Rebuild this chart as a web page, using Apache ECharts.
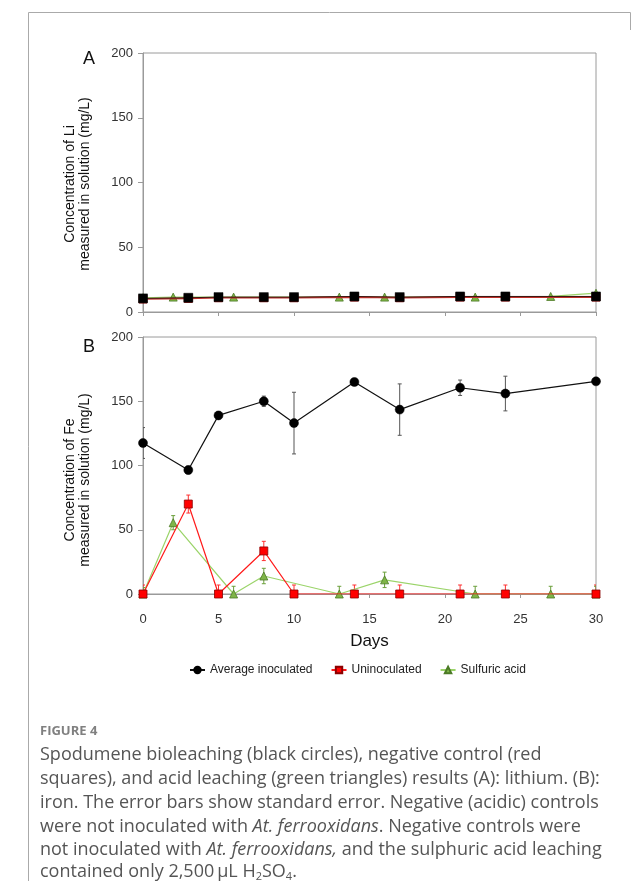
<!DOCTYPE html>
<html>
<head>
<meta charset="utf-8">
<script src="https://cdn.jsdelivr.net/npm/echarts@6/dist/echarts.min.js"></script>
<style>
  html, body { margin: 0; padding: 0; background: #fff; }
  #chart { width: 643px; height: 881px; }
</style>
</head>
<body>
<div id="chart"></div>
<script>
// ---- Sampling days ----
const daysMain = [0, 3, 5, 8, 10, 14, 17, 21, 24, 30];
const daysAcid = [0, 2, 6, 8, 13, 16, 22, 27, 30];

// ---- Panel A: lithium (mg/L) ----
const liInoculated = [10.5, 11, 11.5, 11.5, 11.5, 12, 11.5, 12, 12, 12];
const liUninoculated = [10, 10.5, 11, 11, 11, 11.5, 11, 11.5, 11.5, 11.5];
const liAcid = [11, 11.5, 11.5, 11.5, 11.5, 11.5, 11.5, 12, 14.5];

// ---- Panel B: iron (mg/L) with standard error ----
const feInoculated = [117.5, 96.5, 139, 150, 133, 165, 143.5, 160.5, 156, 165.5];
const feInoculatedErr = [12, 3, 3, 4, 24, 1.5, 20, 6, 13.5, 2];
const feUninoculated = [0, 70, 0, 33.5, 0, 0, 0, 0, 0, 0];
const feUninoculatedErr = [7, 7, 7, 7.5, 7, 7, 7, 7, 7, 7];
const feAcid = [0, 55.5, 0, 14, 0, 11, 0, 0, 0];
const feAcidErr = [5, 5.5, 6, 6, 6, 6, 6, 6, 6];

// ---- Axis ticks ----
const yTicks = { min: 0, max: 200, interval: 50 };
const xTicks = { min: 0, max: 30, interval: 5 };

const seriesNames = ['Average inoculated', 'Uninoculated', 'Sulfuric acid'];

const FONT = '"Liberation Sans", Arial, sans-serif';
const CAP_FONT = '"Open Sans", "Noto Sans", sans-serif';
const AXIS_GREY = '#9a9a9a';

const pairs = (xs, ys) => xs.map((x, i) => [x, ys[i]]);

function errorBars(axisIdx, xs, ys, errs, color) {
  return {
    type: 'custom',
    xAxisIndex: axisIdx,
    yAxisIndex: axisIdx,
    z: 1,
    clip: true,
    silent: true,
    data: xs.map((x, i) => [x, ys[i] - errs[i], ys[i] + errs[i]]),
    renderItem(params, api) {
      const lo = api.coord([api.value(0), api.value(1)]);
      const hi = api.coord([api.value(0), api.value(2)]);
      const w = 2;
      const st = { stroke: color, lineWidth: 1 };
      return {
        type: 'group',
        children: [
          { type: 'line', shape: { x1: lo[0], y1: lo[1], x2: hi[0], y2: hi[1] }, style: st },
          { type: 'line', shape: { x1: hi[0] - w, y1: hi[1], x2: hi[0] + w, y2: hi[1] }, style: st },
          { type: 'line', shape: { x1: lo[0] - w, y1: lo[1], x2: lo[0] + w, y2: lo[1] }, style: st }
        ]
      };
    }
  };
}

function lineSeries(axisIdx, name, data, opts) {
  return Object.assign({
    type: 'line',
    name: name,
    xAxisIndex: axisIdx,
    yAxisIndex: axisIdx,
    data: data,
    symbolSize: 8,
    z: 3,
    animation: false
  }, opts);
}

const BLACK = { lineStyle: { color: '#111', width: 1.2 }, itemStyle: { color: '#000', borderColor: '#000', borderWidth: 0.5 } };
const RED = { lineStyle: { color: '#ff1a1a', width: 1.2 }, itemStyle: { color: '#ff0000', borderColor: '#8b0000', borderWidth: 0.8 } };
const GREEN = { lineStyle: { color: '#9bd46a', width: 1.2 }, itemStyle: { color: '#7fb548', borderColor: '#4b7a25', borderWidth: 0.8 } };

const chart = echarts.init(document.getElementById('chart'), null, { renderer: 'canvas' });

function xAxisDef(idx, showLabels) {
  return {
    type: 'value', gridIndex: idx,
    min: xTicks.min, max: xTicks.max, interval: xTicks.interval,
    axisLine: { show: true, onZero: false, lineStyle: { color: AXIS_GREY, width: 1 } },
    axisTick: { show: true, inside: false, length: 4, lineStyle: { color: AXIS_GREY } },
    axisLabel: { show: showLabels, color: '#333', fontFamily: FONT, fontSize: 13, margin: 19 },
    splitLine: { show: false },
    name: showLabels ? 'Days' : '',
    nameLocation: 'middle',
    nameGap: 39,
    nameTextStyle: { color: '#111', fontFamily: FONT, fontSize: 17 }
  };
}

function yAxisDef(idx) {
  return {
    type: 'value', gridIndex: idx,
    min: yTicks.min, max: yTicks.max, interval: yTicks.interval,
    axisLine: { show: true, lineStyle: { color: AXIS_GREY, width: 1 } },
    axisTick: { show: true, inside: false, length: 5, lineStyle: { color: AXIS_GREY } },
    axisLabel: { color: '#333', fontFamily: FONT, fontSize: 13, margin: 10 },
    splitLine: { show: false }
  };
}

const capRich = {
  i: { fontFamily: CAP_FONT, fontSize: 18, fontStyle: 'italic', fill: '#555' },
  sub: { fontFamily: CAP_FONT, fontSize: 11, fill: '#555', verticalAlign: 'bottom', padding: [9, 0, 0, 0] }
};

function captionLine(cy, text) {
  return {
    type: 'text', x: 40, y: cy,
    style: {
      text: text,
      fontFamily: CAP_FONT, fontSize: 18, fill: '#555',
      verticalAlign: 'middle',
      rich: capRich
    }
  };
}

const option = {
  backgroundColor: '#fff',
  animation: false,
  grid: [
    { left: 143, top: 53, width: 453, height: 259, show: true, borderColor: AXIS_GREY, borderWidth: 1 },
    { left: 143, top: 337, width: 453, height: 257, show: true, borderColor: AXIS_GREY, borderWidth: 1 }
  ],
  xAxis: [xAxisDef(0, false), xAxisDef(1, true)],
  yAxis: [yAxisDef(0), yAxisDef(1)],
  legend: {
    data: seriesNames,
    top: 659, left: 184,
    itemWidth: 15, itemHeight: 8, itemGap: 18,
    textStyle: { color: '#222', fontFamily: FONT, fontSize: 12 },
    selectedMode: false
  },
  graphic: [
    // panel letters
    { type: 'text', left: 83, top: 50, style: { text: 'A', fontFamily: FONT, fontSize: 18, fill: '#111' } },
    { type: 'text', left: 83, top: 338, style: { text: 'B', fontFamily: FONT, fontSize: 18, fill: '#111' } },
    // rotated axis titles
    { type: 'text', x: 78, y: 184, rotation: Math.PI / 2,
      style: { text: 'Concentration of Li\nmeasured in solution (mg/L)', fontFamily: FONT, fontSize: 14, lineHeight: 15,
               fill: '#111', align: 'center', verticalAlign: 'middle' } },
    { type: 'text', x: 78, y: 480, rotation: Math.PI / 2,
      style: { text: 'Concentration of Fe\nmeasured in solution (mg/L)', fontFamily: FONT, fontSize: 14, lineHeight: 15,
               fill: '#111', align: 'center', verticalAlign: 'middle' } },
    // page frame
    { type: 'line', shape: { x1: 28.5, y1: 12.5, x2: 630.5, y2: 12.5 }, style: { stroke: '#aaa', lineWidth: 1 } },
    { type: 'line', shape: { x1: 28.5, y1: 12.5, x2: 28.5, y2: 881 }, style: { stroke: '#aaa', lineWidth: 1 } },
    { type: 'line', shape: { x1: 630.5, y1: 12.5, x2: 630.5, y2: 30 }, style: { stroke: '#aaa', lineWidth: 1 } },
    // caption
    { type: 'text', x: 40, y: 731, style: { text: 'FIGURE 4', fontFamily: CAP_FONT, fontSize: 13, fontWeight: 'bold', fill: '#808080', verticalAlign: 'middle' } },
    captionLine(755, 'Spodumene bioleaching (black circles), negative control (red'),
    captionLine(779, 'squares), and acid leaching (green triangles) results (A): lithium. (B):'),
    captionLine(803, 'iron. The error bars show standard error. Negative (acidic) controls'),
    captionLine(827, 'were not inoculated with {i|At. ferrooxidans}. Negative controls were'),
    captionLine(850, 'not inoculated with {i|At. ferrooxidans,} and the sulphuric acid leaching'),
    captionLine(872, 'contained only 2,500\u2009\u00b5L H{sub|2}SO{sub|4}.')
  ],
  series: [
    // Panel B (listed first so legend icons follow these markers)
    lineSeries(1, seriesNames[0], pairs(daysMain, feInoculated), Object.assign({ symbol: 'circle', symbolSize: 9, z: 5 }, BLACK)),
    lineSeries(1, seriesNames[1], pairs(daysMain, feUninoculated), Object.assign({ symbol: 'rect', symbolSize: 8, z: 4 }, RED)),
    lineSeries(1, seriesNames[2], pairs(daysAcid, feAcid), Object.assign({ symbol: 'triangle', symbolSize: 8, z: 3 }, GREEN)),
    errorBars(1, daysMain, feInoculated, feInoculatedErr, '#555'),
    errorBars(1, daysMain, feUninoculated, feUninoculatedErr, '#ff3030'),
    errorBars(1, daysAcid, feAcid, feAcidErr, '#6a9f3a'),
    // Panel A
    lineSeries(0, 'Li ' + seriesNames[2], pairs(daysAcid, liAcid), Object.assign({ symbol: 'triangle', symbolSize: 8, z: 3 }, GREEN)),
    lineSeries(0, 'Li ' + seriesNames[1], pairs(daysMain, liUninoculated), Object.assign({ symbol: 'rect', symbolSize: 8, z: 4 }, RED, { lineStyle: { color: '#c0302a', width: 1.6 } })),
    lineSeries(0, 'Li ' + seriesNames[0], pairs(daysMain, liInoculated), Object.assign({ symbol: 'rect', symbolSize: 9, z: 5 }, BLACK, { lineStyle: { color: '#3a1410', width: 1 } }))
  ]
};

chart.setOption(option);
</script>
</body>
</html>
